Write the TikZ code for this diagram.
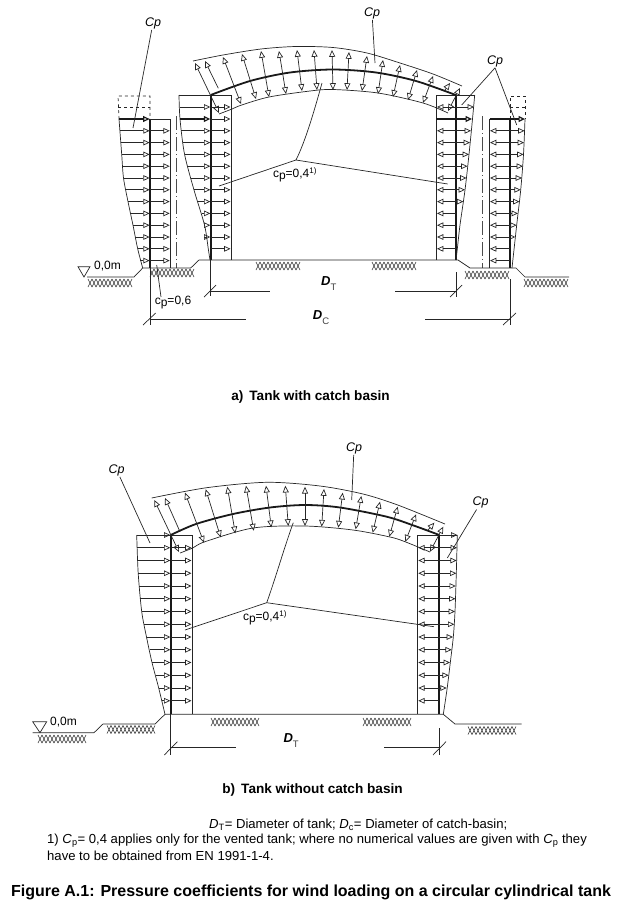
\documentclass[tikz,border=0pt]{standalone}
\usepackage{fontspec}
\setmainfont{Liberation Sans}
\usetikzlibrary{arrows.meta}

\tikzset{
  thinline/.style={line width=0.7pt, black!85},
  wall/.style={line width=1.8pt, black!90},
  presarrow/.style={line width=0.7pt, black!85, -{Triangle[open,length=6.3pt,width=5.6pt]}},
  boldarrow/.style={line width=1.2pt, black!90, -{Triangle[open,length=6.5pt,width=6pt]}},
  roofarrow/.style={line width=0.7pt, black!85, {Triangle[open,length=6.8pt,width=6pt]}-{Triangle[open,length=6.8pt,width=6pt]}},
  roofstub/.style={line width=0.7pt, black!85, {Triangle[open,length=6.8pt,width=6pt]}-},
  axisline/.style={line width=0.6pt, black!70, dash pattern=on 14pt off 3pt on 1pt off 3pt},
  hatchline/.style={line width=0.6pt, black!80},
  lab/.style={inner sep=1pt, font=\fontsize{12}{14}\selectfont},
  cplab/.style={inner sep=1pt, font=\fontsize{12.5}{14}\selectfont\itshape},
  dimlab/.style={inner sep=0pt, anchor=base west, font=\fontsize{13}{15}\selectfont},
  capt/.style={inner sep=0pt, font=\fontsize{13.6}{15}\selectfont\bfseries},
  notes/.style={inner sep=0pt, anchor=west, font=\fontsize{13.1}{15}\selectfont},
}

\newcommand{\soilpatch}[3]{%
  \foreach \i in {1,...,#3} {
    \draw[hatchline] ({#1+(\i-1)*4},#2) -- ({#1+\i*4},#2+8);
    \draw[hatchline] ({#1+(\i-1)*4},#2+8) -- ({#1+\i*4},#2);
  }
}
\newcommand{\dimname}[2]{\textbf{\textit{#1}}\raisebox{-4.5pt}{\fontsize{9.5}{10}\selectfont\color{black!75}#2}}

\begin{document}
\begin{tikzpicture}[x=1pt,y=-1pt]
    \useasboundingbox (0,0) rectangle (621,905);

    % a) walls
    \coordinate (cornerAl) at (210.7,95);
    \coordinate (cornerAr) at (455.7,95);
    \draw[wall] (150,119) -- (150,268);
    \draw[wall] (cornerAl) -- (210.7,260);
    \draw[wall] (cornerAr) -- (455.7,260);
    \draw[wall] (510,119) -- (510,268);
    \draw[thinline] (179,95) -- (231.7,95) -- (231.7,260);
    \draw[thinline] (474.7,95) -- (436,95) -- (436,260);
    \draw[thinline] (150,119) -- (170,119) -- (170,268);
    \draw[thinline] (510,119) -- (489.5,119) -- (489.5,268);
    \draw[axisline] (176.7,116) -- (176.7,268);
    \draw[axisline] (482.7,116) -- (482.7,268);
    \draw[thinline, dashed] (119,119) -- (118,96) -- (150,96) -- (150,119);
    \draw[thinline, dashed] (118,107) -- (150,107);
    \draw[thinline, dashed] (510,119) -- (510,96) -- (525,96) -- (525,119);
    \draw[thinline, dashed] (510,107) -- (525,107);

    % a) pressure outlines
    \draw[thinline] plot[smooth] coordinates {(119,119) (121.7,154.4) (123.5,178) (128,201.6) (133,225.2) (137.7,248.8) (142.7,268)};
    \draw[thinline] plot[smooth] coordinates {(179,95) (180,119) (184.5,154) (194,190) (204.5,225) (208.3,249) (210,260)};
    \draw[thinline] plot[smooth] coordinates {(474.7,95) (472.5,119) (469,154.4) (465,190) (460,225) (457.3,249) (456,260)};
    \draw[thinline] plot[smooth] coordinates {(525,119) (523.5,154.4) (520.7,190) (516.7,225) (512,268)};

    % a) arrows on the walls
    \foreach \y/\xe in {130.8/119.7,142.6/120.7,154.4/121.7,166.2/122.5,178/123.5,189.8/126,201.6/128,213.4/130.5,225.2/133,237/135,248.8/137.7,260.6/140.3}
      \draw[presarrow] (\xe,\y) -- (149.6,\y);
    \foreach \y in {130.8,142.6,154.4,166.2,178,189.8,201.6,213.4,225.2,237,248.8,260.6}
      \draw[presarrow] (150,\y) -- (169.7,\y);
    \foreach \y/\xe in {107/179.5,130.8/181,142.6/182.5,154.4/184.5,166.2/187.5,178/190.5,189.8/194,201.6/198,213.4/201.7,225.2/204.5,237/206.7}
      \draw[presarrow] (\xe,\y) -- (210.3,\y);
    \foreach \y in {107,119,130.8,142.6,154.4,166.2,178,189.8,201.6,213.4,225.2,237,248.8}
      \draw[presarrow] (210.7,\y) -- (230.5,\y);
    \foreach \y in {107,130.8,142.6,154.4,166.2,178,189.8,201.6,213.4,225.2,237,248.8}
      \draw[presarrow] (455.7,\y) -- (437,\y);
    \foreach \y/\xe in {107/474,130.8/471,142.6/470,154.4/469,166.2/467.5,178/466.5,189.8/465,201.6/463.3}
      \draw[presarrow] (455.7,\y) -- (\xe,\y);
    \foreach \y in {130.8,142.6,154.4,166.2,178,189.8,201.6,213.4,225.2,237,248.8,260.6}
      \draw[presarrow] (510,\y) -- (490,\y);
    \foreach \y/\xe in {130.8/524.5,142.6/524,154.4/523.5,166.2/523,178/522,189.8/520.7,201.6/519.5,213.4/518,225.2/516.7,237/515.3}
      \draw[presarrow] (510,\y) -- (\xe,\y);
    \draw[boldarrow] (119,119) -- (149.6,119);
    \draw[boldarrow] (180,119) -- (210.3,119);
    \draw[boldarrow] (436,119) -- (472,119);
    \draw[boldarrow] (489.5,119) -- (525,119);

    % a) roof
    \draw[wall] plot[smooth] coordinates {(cornerAl) (250,81) (290,72.5) (333,69.5) (376,72.5) (416,81) (cornerAr)};
    \draw[thinline] plot[smooth] coordinates {(193,61) (223,55) (261,49) (296,46.5) (333,47.5) (367,53) (400,63) (433,74) (462,86)};
    \draw[thinline] plot[smooth] coordinates {(219,114) (232,109) (241.7,105) (269,97) (310,91) (333,89.5) (378,93) (423,103) (448,113)};
    \foreach \xa/\ya/\xb/\yb in {195/63/219/113,223/57/241/104,242/54/256/99,261/51/269/97,279/51/286/94,297/50/302/91,314/50/317/90,332/50/333/90,349/52/347/90,367/56/362/91,383/60/378/94,400/65/393/97,417/70/408/100,433/76/423/103,460/88/448/111}
      \draw[roofarrow] (\xa,\ya) -- (\xb,\yb);
    \draw[roofstub] (205,61) -- (218.3,88.3);
    \draw[roofstub] (450,83) -- (445,90);

    % a) ground
    \draw[thinline] (87,277) -- (134,277) -- (142.7,268) -- (190.7,268) -- (199,260) -- (458,260) -- (470,268) -- (516,268) -- (525,277) -- (569,277);
    \soilpatch{88}{279}{11}
    \soilpatch{150}{269}{11}
    \soilpatch{256}{262}{11}
    \soilpatch{372}{262}{11}
    \soilpatch{465}{271}{11}
    \soilpatch{524}{279}{11}
    \draw[thinline] (78,266.7) -- (90,266.7) -- (84,277) -- cycle;
    \node[lab, anchor=west] (levelA) at (93,266.5) {0,0m};

    % a) dimensions
    \draw[thinline] (210.7,260) -- (210.7,296);
    \draw[thinline] (204,297) -- (216,285);
    \draw[thinline] (210.7,291) -- (270,291);
    \draw[thinline] (456,272) -- (456,297);
    \draw[thinline] (450,297) -- (462,285);
    \draw[thinline] (395,291) -- (456,291);
    \draw[thinline] (150,268) -- (150,325);
    \draw[thinline] (143,325) -- (155.7,313);
    \draw[thinline] (150,319) -- (245.7,319);
    \draw[thinline] (510,279) -- (510,325);
    \draw[thinline] (503,325) -- (516,313);
    \draw[thinline] (425,319) -- (510,319);
    \node[dimlab] (dtA) at (321,285.6) {\dimname{D}{T}};
    \node[dimlab] (dcA) at (312.7,319.6) {\dimname{D}{C}};

    % a) labels and their lines
    \node[cplab] (cpAa) at (153,23) {Cp};
    \node[cplab] (cpAb) at (372,13) {Cp};
    \node[cplab] (cpAc) at (495,61) {Cp};
    \coordinate (cpAaend) at (133,128);
    \coordinate (cpAbend) at (375,63);
    \coordinate (cpAcleft) at (461.7,105);
    \coordinate (cpAcright) at (516.7,125);
    \draw[thinline] (cpAa) -- (cpAaend);
    \draw[thinline] (cpAb) -- (cpAbend);
    \draw[thinline] (cpAc.south) -- (cpAcleft);
    \draw[thinline] (cpAc.south) -- (cpAcright);
    \node[lab] (cpsix) at (173,303) {c\raisebox{-2pt}{p}=0,6};
    \coordinate (cpsixtop) at (161,297);
    \coordinate (cpsixend) at (156.7,265);
    \draw[thinline] (cpsixtop) -- (cpsixend);
    \node[lab] (cpfourA) at (295,175) {c\raisebox{-2pt}{p}=0,4\textsuperscript{1)}};
    \coordinate (hubA) at (296,160);
    \coordinate (hubAtop) at (322,83);
    \coordinate (hubAleft) at (219,186);
    \coordinate (hubAright) at (447.7,184);
    \draw[thinline] (hubA) .. controls (306,140) and (315,108) .. (hubAtop);
    \draw[thinline] (hubA) -- (hubAleft);
    \draw[thinline] (hubA) -- (hubAright);
    \node[capt] (captA) at (310.5,397) {a)\, Tank with catch basin};

    % b) walls
    \coordinate (cornerBl) at (170.7,535);
    \coordinate (cornerBr) at (439.3,535);
    \draw[wall] (cornerBl) -- (170.7,714.3);
    \draw[wall] (cornerBr) -- (439.3,714.3);
    \draw[thinline] (136.7,535) -- (192.7,535) -- (192.7,714.3);
    \draw[thinline] (457.3,535) -- (417.3,535) -- (417.3,714.3);

    % b) pressure outlines
    \draw[thinline] plot[smooth] coordinates {(136.7,535) (138.2,573.25) (141.7,611.5) (146.5,637) (152,662.5) (158.7,688) (165,714.3)};
    \draw[thinline] plot[smooth] coordinates {(457.3,535) (456.3,573.25) (455,611.5) (453.3,637) (450.3,662.5) (447.2,688) (443.3,714.3)};

    % b) arrows on the walls
    \foreach \y/\xe in {535/136.7,547.75/137,560.5/137.5,573.25/138.2,586/139,598.75/140.2,611.5/141.7,624.25/144,637/146.5,649.75/149.5,662.5/152,675.25/155.5,688/158.7,700.75/161.7}
      \draw[presarrow] (\xe,\y) -- (170.3,\y);
    \foreach \y in {547.75,560.5,573.25,586,598.75,611.5,624.25,637,649.75,662.5,675.25,688,700.75}
      \draw[presarrow] (170.7,\y) -- (191.5,\y);
    \foreach \y in {547.75,560.5,573.25,586,598.75,611.5,624.25,637,649.75,662.5,675.25,688,700.75}
      \draw[presarrow] (439.3,\y) -- (418.3,\y);
    \foreach \y/\xe in {535/457.3,547.75/457,560.5/456.7,573.25/456.3,586/455.8,598.75/455.4,611.5/455,624.25/454.3,637/453,649.75/451.7,662.5/450,675.25/448.7,688/446.7}
      \draw[presarrow] (439.3,\y) -- (\xe,\y);

    % b) roof
    \draw[wall] plot[smooth] coordinates {(cornerBl) (196,524) (233,514) (270,507.5) (305,505) (340,507.5) (386.7,516.7) (415,526) (cornerBr)};
    \draw[thinline] plot[smooth] coordinates {(151.7,498) (206.7,487.7) (266.7,482.3) (320,486) (363,494) (397.7,505) (445,524)};
    \draw[thinline] plot[smooth] coordinates {(180,553) (192.7,548) (205,541.7) (253,528) (305,526) (353,530) (390,537) (405,541.7) (430,552)};
    \foreach \xa/\ya/\xb/\yb in {154.3/500/179/552,185/492.7/204/542.7,205.7/489.3/220.7/537.3,227.3/486.7/235.3/533.3,246/485.7/253.7/530.7,266/485.7/271.3/527.3,285.3/485.7/288.3/526,305/486.7/305/526,324/489/321.7/526.7,342.7/492.7/338.3/527.7,361.3/496/355.7/529.3,380/501.7/372.7/532.7,397.7/506.7/389.3/536.7,416/514.3/405.3/541.7,443.3/526.7/430/551.7}
      \draw[roofarrow] (\xa,\ya) -- (\xb,\yb);
    \draw[roofstub] (165,498) -- (180,531.7);
    \draw[roofstub] (434.3,522.7) -- (428,530);

    % b) ground
    \draw[thinline] (32.7,732.7) -- (94,732.7) -- (103,724) -- (155,724) -- (165,714.3) -- (443.3,714.3) -- (455,724) -- (521.7,724);
    \soilpatch{38}{735}{12}
    \soilpatch{107}{725.5}{12}
    \soilpatch{211}{718}{12}
    \soilpatch{363}{718}{12}
    \soilpatch{468}{726.5}{12}
    \draw[thinline] (32.7,721.7) -- (46.7,721.7) -- (40,732.7) -- cycle;
    \node[lab, anchor=west] (levelB) at (49,722) {0,0m};

    % b) dimensions
    \draw[thinline] (170.7,714.3) -- (170.7,755);
    \draw[thinline] (164.3,755) -- (177.3,741.7);
    \draw[thinline] (170.7,747.7) -- (236,747.7);
    \draw[thinline] (439.7,728) -- (439.7,755);
    \draw[thinline] (433,755) -- (446,741.7);
    \draw[thinline] (384,747.7) -- (439.7,747.7);
    \node[dimlab] (dtB) at (283.3,742.6) {\dimname{D}{T}};

    % b) labels and their lines
    \node[cplab] (cpBa) at (116.7,470) {Cp};
    \node[cplab] (cpBb) at (354,448) {Cp};
    \node[cplab] (cpBc) at (480.7,502.7) {Cp};
    \coordinate (cpBaend) at (150,543);
    \coordinate (cpBbend) at (351.7,500);
    \coordinate (cpBcend) at (447.3,558);
    \draw[thinline] (cpBa) -- (cpBaend);
    \draw[thinline] (cpBb) -- (cpBbend);
    \draw[thinline] (cpBc) -- (cpBcend);
    \node[lab] (cpfourB) at (265,618) {c\raisebox{-2pt}{p}=0,4\textsuperscript{1)}};
    \coordinate (hubB) at (266.7,602.7);
    \coordinate (hubBtop) at (293.3,522.7);
    \coordinate (hubBleft) at (185,630);
    \coordinate (hubBright) at (434,626.7);
    \draw[thinline] (hubB) .. controls (275,580) and (285,545) .. (hubBtop);
    \draw[thinline] (hubB) -- (hubBleft);
    \draw[thinline] (hubB) -- (hubBright);
    \node[capt] (captB) at (312.5,790) {b)\, Tank without catch basin};

    % notes and caption
    \node[notes] (noteA) at (209,825) {\textit{D}\textsubscript{T}= Diameter of tank; \textit{D}\textsubscript{c}= Diameter of catch-basin;};
    \node[notes] (noteB) at (47,841) {1) \textit{C}\textsubscript{p}= 0,4 applies only for the vented tank; where no numerical values are given with \textit{C}\textsubscript{p} they};
    \node[notes] (noteC) at (47,856) {have to be obtained from EN 1991-1-4.};
    \node[inner sep=0pt, font=\fontsize{16}{18}\selectfont\bfseries] (captMain) at (311,892) {Figure A.1: Pressure coefficients for wind loading on a circular cylindrical tank};

\end{tikzpicture}
\end{document}
